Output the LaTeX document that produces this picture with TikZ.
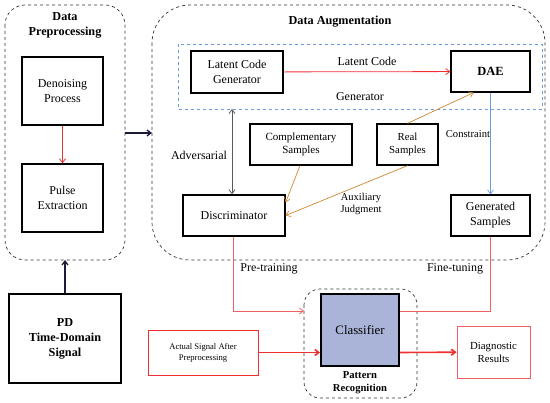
\documentclass[tikz,border=0pt]{standalone}
\usepackage{fontspec}
\setmainfont{Liberation Serif}
\usetikzlibrary{arrows.meta}
\definecolor{myred}{HTML}{F03030}
\definecolor{lred}{HTML}{F06060}
\definecolor{myorange}{HTML}{CC8833}
\definecolor{myblue}{HTML}{6A9BDD}
\definecolor{navy}{HTML}{1A1A3A}
\definecolor{lav}{HTML}{AAB4D8}
\newcommand{\fs}[2]{\rmfamily\fontsize{#1}{#2}\selectfont}
\begin{document}
\begin{tikzpicture}[x=1pt,y=-1pt,
  box/.style={draw=black,line width=1.3pt,align=center,font=\fs{12}{15}},
  redbox/.style={draw=myred,line width=0.9pt,align=center},
  cont/.style={draw=black!80,dashed,line width=0.7pt},
  lbl/.style={font=\fs{12}{14},align=center},
  blbl/.style={font=\fs{12.2}{15}\bfseries,align=center},
  tip/.style={-{Straight Barb[length=4pt,width=6pt]}}
]
\useasboundingbox (0,0) rectangle (550,403);
% containers
\draw[cont,rounded corners=20pt] (5,5) rectangle (125,260);
\node[blbl] (tpre) at (65,25) {Data\\Preprocessing};
\draw[cont,rounded corners=38pt] (152,5) rectangle (545,260);
\coordinate (augL) at (152,133);
\coordinate (preR) at (125,133);
\coordinate (preB) at (65,260);
\node[blbl] (taug) at (340,22) {Data Augmentation};
\draw[cont,rounded corners=16pt] (304,289) rectangle (417,398);
\coordinate (prL) at (304,311);
\draw[myblue,dashed,line width=0.7pt] (178,44) rectangle (542,109);
\coordinate (genB) at (232,109);

% nodes
\node[box,minimum width=81pt,minimum height=68pt] (den) at (62.5,91) {Denoising\\Process};
\node[box,minimum width=81pt,minimum height=68pt] (pulse) at (62.5,198) {Pulse\\Extraction};
\node[box,minimum width=92pt,minimum height=42pt] (lcg) at (237,72) {Latent Code\\Generator};
\node[box,minimum width=79pt,minimum height=41pt,font=\fs{12.5}{14}\bfseries] (dae) at (490.5,71.5) {DAE};
\node[box,minimum width=102pt,minimum height=41pt,font=\fs{11}{12.7}] (comp) at (301,144.5) {Complementary\\Samples};
\node[box,minimum width=61pt,minimum height=41pt,font=\fs{10.8}{12.7}] (real) at (407.5,144.5) {Real\\Samples};
\node[box,minimum width=102pt,minimum height=41pt] (disc) at (234,215.5) {Discriminator};
\node[box,minimum width=79pt,minimum height=41pt] (gens) at (490.5,215.5) {Generated\\Samples};
\node[box,line width=1.8pt,fill=lav,minimum width=78pt,minimum height=72pt,font=\fs{12.8}{15}] (cls) at (360,330) {Classifier};
\node[blbl,font=\fs{10.6}{13}\bfseries] (tpr) at (360,383) {Pattern\\Recognition};
\node[redbox,minimum width=110pt,minimum height=45pt,font=\fs{8.6}{11}] (act) at (203,352.5) {Actual Signal After\\Preprocessing};
\node[redbox,minimum width=73pt,minimum height=52pt,font=\fs{10.8}{13},draw=lred] (diag) at (493.5,352) {Diagnostic\\Results};
\node[box,line width=1.8pt,minimum width=112pt,minimum height=89pt,font=\fs{12.2}{15}\bfseries] (pd) at (65,338.5) {PD\\Time-Domain\\Signal};

% connectors
\draw[myred,line width=0.8pt,tip] (den) -- (pulse);
\draw[navy,line width=1.3pt,tip] (preR) -- (augL);
\draw[navy,line width=1.3pt,tip] (pd) -- (preB);
\draw[myred,line width=0.8pt,tip] (lcg) -- node[lbl,above=2pt,text=black] {Latent Code} (dae);
\node[lbl] (tgen) at (360,97) {Generator};
\draw[gray!70!black,line width=0.8pt,{Straight Barb[length=4pt,width=6pt]}-{Straight Barb[length=4pt,width=6pt]}] (genB) -- (disc.north -| genB);
\node[lbl] (tadv) at (199,155) {Adversarial};
\draw[myorange,line width=0.7pt,tip] (comp.south) ++(-1,0) coordinate (cs) -- ([yshift=-8pt]disc.north east);
\draw[myorange,line width=0.7pt,tip] (real.south) -- (disc.east);
\draw[myorange,line width=0.7pt,tip] (real.north) -- ([xshift=-17pt]dae.south);
\node[lbl,font=\fs{10.5}{11.7}] (taux) at (361,204) {Auxiliary\\Judgment};
\draw[myblue,line width=0.7pt,tip] (dae) -- (gens);
\node[lbl,font=\fs{10.6}{12}] (tcon) at (468,134) {Constraint};
\draw[lred,line width=0.8pt,tip] (disc.south -| 233,0) -- (233,311) -- (prL);
\node[lbl] (tpt) at (269,269) {Pre-training};
\draw[lred,line width=0.8pt] (gens.south) -- (490.5,311) -- (cls.east |- 0,311);
\node[lbl] (tft) at (455,269) {Fine-tuning};
\draw[myred,line width=1.6pt,tip] (act) -- (cls.west |- act);
\draw[myred,line width=1.6pt,tip] (cls.east |- act) -- (diag);
\end{tikzpicture}
\end{document}
